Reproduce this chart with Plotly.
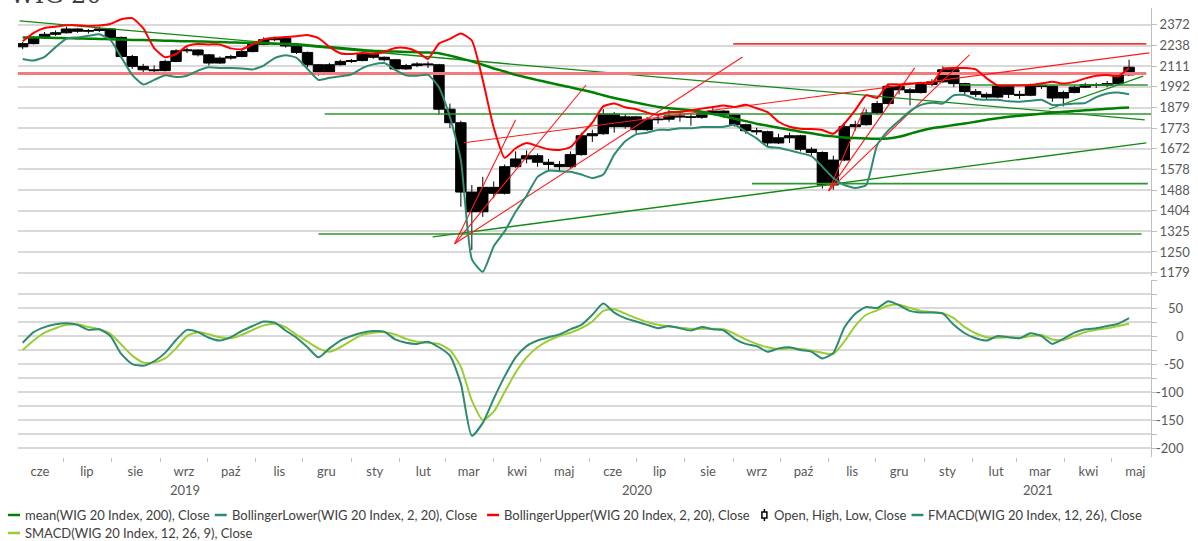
import math
import pandas as pd
import plotly.graph_objects as go

# ---------------- data ----------------
weeks = pd.date_range("2019-06-05", periods=102, freq="7D")

ohlc_open = [2230, 2250, 2290, 2310, 2320, 2345, 2330, 2335, 2345, 2290,
             2170, 2110, 2090, 2085, 2140, 2205, 2210, 2180, 2130, 2160,
             2170, 2200, 2245, 2275, 2285, 2235, 2195, 2120, 2070, 2120,
             2140, 2145, 2185, 2165, 2150, 2095, 2115, 2125, 2120, 1870,
             1800, 1480, 1400, 1500, 1475, 1590, 1625, 1640, 1610, 1600,
             1590, 1645, 1735, 1745, 1845, 1780, 1830, 1765, 1815, 1818,
             1835, 1830, 1828, 1850, 1860, 1840, 1790, 1760, 1755, 1700,
             1725, 1735, 1670, 1655, 1510, 1620, 1780, 1790, 1850, 1900,
             1995, 1975, 1960, 2005, 2020, 2090, 2010, 1965, 1950, 1935,
             1995, 1950, 1945, 2000, 1995, 1930, 1960, 1990, 2005, 2000,
             2010, 2060]
ohlc_high = [2260, 2300, 2325, 2335, 2360, 2350, 2345, 2360, 2350, 2295,
             2180, 2125, 2115, 2150, 2215, 2225, 2215, 2185, 2170, 2180,
             2210, 2255, 2290, 2295, 2290, 2240, 2200, 2125, 2130, 2150,
             2155, 2200, 2190, 2170, 2155, 2125, 2135, 2140, 2125, 1900,
             1810, 1510, 1545, 1525, 1600, 1660, 1665, 1650, 1625, 1615,
             1660, 1750, 1765, 1870, 1855, 1845, 1835, 1830, 1835, 1865,
             1850, 1845, 1860, 1875, 1865, 1845, 1795, 1775, 1760, 1745,
             1750, 1740, 1680, 1660, 1640, 1800, 1810, 1870, 1915, 2010,
             2005, 1985, 2015, 2035, 2110, 2095, 2015, 1980, 1960, 2005,
             2000, 1970, 2010, 2015, 2000, 1970, 2000, 2015, 2015, 2025,
             2070, 2150]
ohlc_low = [2215, 2245, 2285, 2300, 2315, 2320, 2315, 2325, 2280, 2160,
            2095, 2075, 2060, 2080, 2135, 2190, 2170, 2115, 2125, 2150,
            2165, 2195, 2240, 2265, 2225, 2185, 2105, 2055, 2065, 2115,
            2130, 2140, 2155, 2140, 2085, 2090, 2105, 2100, 1840, 1773,
            1420, 1257, 1380, 1455, 1470, 1585, 1605, 1590, 1575, 1570,
            1585, 1640, 1705, 1740, 1750, 1770, 1745, 1760, 1795, 1805,
            1805, 1785, 1820, 1840, 1825, 1780, 1745, 1740, 1680, 1695,
            1700, 1660, 1640, 1495, 1490, 1615, 1760, 1785, 1840, 1895,
            1950, 1890, 1955, 1995, 2015, 1990, 1945, 1935, 1920, 1930,
            1930, 1925, 1940, 1980, 1910, 1885, 1955, 1985, 1985, 1990,
            2005, 2055]
ohlc_close = [2250, 2290, 2310, 2320, 2345, 2330, 2335, 2345, 2290, 2170,
              2110, 2090, 2085, 2140, 2205, 2210, 2180, 2130, 2160, 2170,
              2200, 2245, 2275, 2285, 2235, 2195, 2120, 2070, 2120, 2140,
              2145, 2185, 2165, 2150, 2095, 2115, 2125, 2120, 1870, 1800,
              1480, 1400, 1500, 1475, 1590, 1625, 1640, 1610, 1600, 1590,
              1645, 1735, 1745, 1845, 1780, 1830, 1765, 1815, 1818, 1835,
              1830, 1828, 1850, 1860, 1840, 1790, 1760, 1755, 1700, 1725,
              1735, 1670, 1655, 1510, 1620, 1780, 1790, 1850, 1900, 1995,
              1975, 1960, 2005, 2020, 2090, 2010, 1965, 1950, 1935, 1995,
              1950, 1945, 2000, 1995, 1930, 1960, 1990, 2005, 2000, 2010,
              2060, 2105]

mean200 = [2290, 2289, 2288, 2286, 2285, 2283, 2282, 2280, 2278, 2276,
           2274, 2273, 2271, 2269, 2267, 2265, 2264, 2262, 2260, 2258,
           2256, 2254, 2252, 2250, 2248, 2246, 2240, 2234, 2228, 2222,
           2216, 2210, 2205, 2202, 2200, 2198, 2196, 2194, 2190, 2175,
           2158, 2140, 2120, 2098, 2080, 2060, 2045, 2030, 2016, 2002,
           1990, 1975, 1962, 1945, 1930, 1918, 1905, 1893, 1882, 1875,
           1870, 1865, 1857, 1845, 1833, 1820, 1808, 1795, 1785, 1775,
           1765, 1755, 1747, 1738, 1732, 1727, 1724, 1722, 1720, 1722,
           1730, 1745, 1760, 1772, 1780, 1788, 1796, 1805, 1815, 1823,
           1830, 1836, 1841, 1846, 1851, 1856, 1860, 1864, 1868, 1872,
           1876, 1879]
boll_upper = [2265, 2320, 2352, 2360, 2370, 2370, 2365, 2368, 2378, 2410,
              2418, 2350, 2222, 2165, 2185, 2235, 2248, 2245, 2245, 2220,
              2215, 2245, 2278, 2288, 2292, 2297, 2306, 2285, 2230, 2190,
              2185, 2192, 2186, 2198, 2222, 2222, 2200, 2155, 2250, 2280,
              2315, 2270, 2030, 1775, 1630, 1675, 1700, 1685, 1670, 1667,
              1680, 1740, 1800, 1885, 1900, 1880, 1870, 1852, 1840, 1855,
              1855, 1863, 1873, 1882, 1890, 1882, 1893, 1875, 1855, 1805,
              1780, 1770, 1768, 1763, 1745, 1795, 1865, 1945, 1930, 2005,
              2005, 2010, 2015, 2010, 2095, 2100, 2100, 2092, 2040, 2000,
              2000, 2000, 2002, 2010, 2020, 2010, 2020, 2040, 2055, 2060,
              2052, 2100]
boll_lower = [2155, 2145, 2168, 2228, 2282, 2290, 2300, 2310, 2275, 2165,
              2060, 2005, 2031, 2058, 2048, 2055, 2085, 2105, 2100, 2100,
              2098, 2092, 2115, 2160, 2178, 2162, 2095, 2031, 2043, 2052,
              2062, 2100, 2122, 2130, 2090, 2058, 2055, 2060, 1990, 1830,
              1620, 1225, 1182, 1270, 1325, 1400, 1465, 1545, 1572, 1570,
              1567, 1555, 1540, 1555, 1645, 1708, 1742, 1750, 1764, 1764,
              1772, 1772, 1778, 1778, 1780, 1790, 1755, 1722, 1682, 1677,
              1665, 1652, 1638, 1590, 1540, 1510, 1497, 1510, 1690, 1760,
              1810, 1860, 1893, 1905, 1900, 1945, 1947, 1925, 1920, 1920,
              1912, 1910, 1915, 1920, 1892, 1895, 1900, 1903, 1935, 1955,
              1960, 1950]
fmacd = [-12, 7, 16, 21, 23, 20, 11, 12, 0, -32,
         -50, -53, -45, -30, -7, 11, 7, -3, -8, -2,
         9, 18, 26, 24, 10, -3, -20, -38, -22, -8,
         0, 6, 9, 8, -6, -12, -14, -10, -20, -35,
         -85, -178, -155, -112, -72, -38, -18, -8, -2, 3,
         12, 20, 38, 58, 42, 32, 26, 20, 14, 18,
         14, 10, 16, 12, 10, -5, -14, -18, -28, -22,
         -20, -25, -28, -40, -30, 15, 40, 52, 50, 62,
         55, 45, 42, 42, 40, 20, 5, -4, -8, 0,
         -2, -4, 5, 0, -14, -5, 6, 12, 14, 18,
         22, 32]
smacd = [-25, -8, 6, 14, 20, 21, 16, 12, 4, -15,
         -35, -47, -47, -40, -22, 0, 7, 3, -2, -4,
         2, 11, 19, 22, 16, 2, -10, -22, -28, -20,
         -8, 2, 6, 7, 3, -5, -10, -12, -14, -25,
         -55, -115, -150, -135, -100, -65, -38, -20, -8, 0,
         6, 14, 26, 45, 48, 40, 32, 25, 20, 17,
         15, 13, 13, 13, 12, 4, -6, -14, -20, -23,
         -22, -23, -26, -30, -32, -10, 18, 38, 46, 54,
         56, 50, 45, 43, 41, 32, 16, 5, -2, -3,
         -2, -3, 0, 2, -6, -7, 0, 7, 11, 14,
         18, 22]

# drawn trend lines: start date/value -> end date/value
red_start_dates = ["2020-03-13", "2020-03-07", "2020-03-07", "2020-03-07",
                   "2020-11-01", "2020-11-01", "2020-11-01"]
red_start_vals = [1701, 1279, 1279, 1279, 1485, 1485, 1485]
red_end_dates = ["2021-05-25", "2020-04-15", "2020-05-30", "2020-09-07",
                 "2020-11-24", "2020-12-26", "2021-01-30"]
red_end_vals = [2192, 1815, 2002, 2167, 1879, 2101, 2180]

red_level_vals = [2068, 2248]
red_level_from = ["2019-06-02", "2020-09-01"]
red_level_to = ["2021-05-23", "2021-05-23"]

green_start_dates = ["2019-06-03", "2020-02-22", "2021-03-22"]
green_start_vals = [2399, 1304, 1871]
green_end_dates = ["2021-05-22", "2021-05-23", "2021-05-21"]
green_end_vals = [1815, 1701, 2053]

green_level_vals = [1845, 1315, 1516, 2002]
green_level_from = ["2019-12-15", "2019-12-11", "2020-09-13", "2021-01-24"]
green_level_to = ["2021-05-26", "2021-05-20", "2021-05-24", "2021-05-24"]

price_ticks = [2372, 2238, 2111, 1992, 1879, 1773, 1672, 1578, 1488, 1404,
               1325, 1250, 1179]
macd_ticks = [-200, -175, -150, -125, -100, -75, -50, -25, 0, 25, 50, 75, 100]
macd_labels = [50, 0, -50, -100, -150, -200]
month_names = ["cze", "lip", "sie", "wrz", "paź", "lis", "gru", "sty", "lut",
               "mar", "kwi", "maj", "cze", "lip", "sie", "wrz", "paź", "lis",
               "gru", "sty", "lut", "mar", "kwi", "maj"]
year_names = ["2019", "2020", "2021"]

legend_names = ["mean(WIG 20 Index, 200), Close",
                "BollingerLower(WIG 20 Index, 2, 20), Close",
                "BollingerUpper(WIG 20 Index, 2, 20), Close",
                "Open, High, Low, Close",
                "FMACD(WIG 20 Index, 12, 26), Close",
                "SMACD(WIG 20 Index, 12, 26, 9), Close"]

# ---------------- styling ----------------
FONT = "Lato"
TXT = "#595959"
GRID = "#d9d9d9"
AX = "#bfbfbf"
C_MEAN = "#008000"
C_LOW = "#2e8b70"
C_UP = "#ff0000"
C_F = "#2e8b70"
C_S = "#9acd32"
W, H = 1198, 541
ML, MR, MT, MB = 18, 40, 8, 84
PW, PH = W - ML - MR, H - MT - MB
xr = ["2019-06-02", "2021-05-26"]


def px(x):
    return (x - ML) / PW


def py(y):
    return (H - MB - y) / PH


fig = go.Figure()

# trend lines (behind)
for d0, v0, d1, v1 in zip(green_start_dates, green_start_vals, green_end_dates, green_end_vals):
    fig.add_trace(go.Scatter(x=[d0, d1], y=[v0, v1], mode="lines", showlegend=False,
                             hoverinfo="skip", line=dict(color="#138a13", width=1.3),
                             xaxis="x", yaxis="y"))
for v, d0, d1 in zip(green_level_vals, green_level_from, green_level_to):
    fig.add_trace(go.Scatter(x=[d0, d1], y=[v, v], mode="lines", showlegend=False,
                             hoverinfo="skip", line=dict(color="#2e962e", width=1.6),
                             xaxis="x", yaxis="y"))
fig.add_trace(go.Scatter(x=[red_level_from[0], red_level_to[0]], y=[red_level_vals[0]] * 2,
                         mode="lines", showlegend=False, hoverinfo="skip",
                         line=dict(color="#f27a7a", width=3), xaxis="x", yaxis="y"))
fig.add_trace(go.Scatter(x=[red_level_from[1], red_level_to[1]], y=[red_level_vals[1]] * 2,
                         mode="lines", showlegend=False, hoverinfo="skip",
                         line=dict(color="#f03a3a", width=1.8), xaxis="x", yaxis="y"))
for d0, v0, d1, v1 in zip(red_start_dates, red_start_vals, red_end_dates, red_end_vals):
    fig.add_trace(go.Scatter(x=[d0, d1], y=[v0, v1], mode="lines", showlegend=False,
                             hoverinfo="skip", line=dict(color="#ff1a1a", width=1.1),
                             xaxis="x", yaxis="y"))

# indicators
fig.add_trace(go.Scatter(x=weeks, y=mean200, name=legend_names[0], mode="lines",
                         line=dict(color=C_MEAN, width=2.5, shape="spline", smoothing=0.5),
                         xaxis="x", yaxis="y", showlegend=False))
fig.add_trace(go.Scatter(x=weeks, y=boll_lower, name=legend_names[1], mode="lines",
                         line=dict(color=C_LOW, width=2, shape="spline", smoothing=0.5),
                         xaxis="x", yaxis="y", showlegend=False))
fig.add_trace(go.Scatter(x=weeks, y=boll_upper, name=legend_names[2], mode="lines",
                         line=dict(color=C_UP, width=2, shape="spline", smoothing=0.5),
                         xaxis="x", yaxis="y", showlegend=False))
fig.add_trace(go.Candlestick(x=weeks, open=ohlc_open, high=ohlc_high, low=ohlc_low,
                             close=ohlc_close, name=legend_names[3], whiskerwidth=0,
                             increasing=dict(line=dict(color="black", width=1), fillcolor="black"),
                             decreasing=dict(line=dict(color="black", width=1), fillcolor="black"),
                             xaxis="x", yaxis="y", showlegend=False))

# MACD panel
fig.add_trace(go.Scatter(x=weeks, y=smacd, name=legend_names[5], mode="lines",
                         line=dict(color=C_S, width=2, shape="spline", smoothing=0.6),
                         xaxis="x2", yaxis="y2", showlegend=False))
fig.add_trace(go.Scatter(x=weeks, y=fmacd, name=legend_names[4], mode="lines",
                         line=dict(color=C_F, width=2, shape="spline", smoothing=0.6),
                         xaxis="x2", yaxis="y2", showlegend=False))

# month ticks
month_starts = pd.date_range("2019-06-01", periods=24, freq="MS")
month_mids = month_starts + pd.Timedelta(days=15)

# year labels centred on the visible part of each year
r0, r1 = pd.Timestamp(xr[0]), pd.Timestamp(xr[1])
annotations = []
for yname in year_names:
    a = max(r0, pd.Timestamp(f"{yname}-01-01"))
    b = min(r1, pd.Timestamp(f"{int(yname) + 1}-01-01"))
    mid = a + (b - a) / 2
    annotations.append(dict(x=mid, y=py(490), xref="x2", yref="paper", text=yname,
                            showarrow=False, xanchor="center", yanchor="middle",
                            font=dict(family=FONT, size=13, color=TXT)))

# lower axis labels, right aligned
for v in macd_labels:
    annotations.append(dict(x=px(1193), y=v, xref="paper", yref="y2", text=str(v),
                            showarrow=False, xanchor="right", yanchor="middle",
                            font=dict(family=FONT, size=13, color=TXT)))

# title (cut by the top edge)
annotations.append(dict(x=px(8), y=1, xref="paper", yref="paper", text="WIG 20",
                        showarrow=False, xanchor="left", yanchor="bottom", yshift=-3,
                        font=dict(family="DejaVu Serif", size=24, color="#404040")))

# manual legend
shapes = []
leg_items = [(8, 515, C_MEAN, legend_names[0]),
             (216, 515, C_LOW, legend_names[1]),
             (490, 515, C_UP, legend_names[2]),
             (None, 515, "black", legend_names[3]),
             (917, 515, C_F, legend_names[4]),
             (8, 533, C_S, legend_names[5])]
leg_text_x = [23, 231, 505, 777, 932, 23]
for (lx, ly, col, name), tx in zip(leg_items, leg_text_x):
    if lx is not None:
        shapes.append(dict(type="line", xref="paper", yref="paper", x0=px(lx), x1=px(lx + 12),
                           y0=py(ly), y1=py(ly), line=dict(color=col, width=2.5)))
    annotations.append(dict(x=px(tx), y=py(ly), xref="paper", yref="paper", text=name,
                            showarrow=False, xanchor="left", yanchor="middle",
                            font=dict(family=FONT, size=13, color="#404040")))
# candle icon
shapes.append(dict(type="line", xref="paper", yref="paper", x0=px(769), x1=px(769),
                   y0=py(509), y1=py(521), line=dict(color="black", width=1.5)))
shapes.append(dict(type="rect", xref="paper", yref="paper", x0=px(766.5), x1=px(771.5),
                   y0=py(512), y1=py(518), fillcolor="white", line=dict(color="black", width=1.5)))

fig.update_layout(
    width=W, height=H, margin=dict(l=ML, r=MR, t=MT, b=MB),
    paper_bgcolor="white", plot_bgcolor="white", showlegend=False,
    font=dict(family=FONT, size=13, color=TXT),
    boxmode="overlay", boxgap=0.05, boxgroupgap=0,
    xaxis=dict(domain=[0, 1], anchor="y", type="date", range=xr, showticklabels=False,
               showgrid=False, zeroline=False, ticks="", rangeslider=dict(visible=False),
               matches="x2"),
    xaxis2=dict(domain=[0, 1], anchor="y2", type="date", range=xr, tickmode="array",
                tickvals=list(month_mids), ticktext=month_names, ticks="", showgrid=False,
                zeroline=False, showline=False, ticklabelstandoff=5,
                tickfont=dict(family=FONT, size=13, color=TXT),
                minor=dict(tickmode="array", tickvals=list(month_starts), ticks="outside",
                           ticklen=4, tickcolor=AX, showgrid=False)),
    yaxis=dict(domain=[py(276), 1], anchor="x", type="log",
               range=[math.log10(1168), math.log10(2488)], side="right",
               tickmode="array", tickvals=price_ticks, ticktext=[str(v) for v in price_ticks],
               showline=True, linecolor=AX, linewidth=1, ticks="outside", ticklen=5,
               tickcolor=AX, showgrid=True, gridcolor=GRID, gridwidth=1.5, zeroline=False,
               tickfont=dict(family=FONT, size=13, color=TXT)),
    yaxis2=dict(domain=[0, py(279.5)], anchor="x2", range=[-216, 101], side="right",
                tickmode="array", tickvals=macd_ticks, showticklabels=False,
                showline=True, linecolor=AX, linewidth=1, ticks="outside", ticklen=5,
                tickcolor=AX, showgrid=True, gridcolor=GRID, gridwidth=1.5, zeroline=False),
    annotations=annotations, shapes=shapes,
)

fig.write_html("out.html", config={"displayModeBar": False},
               post_script="document.body.style.margin='0';document.body.style.overflow='hidden';")
